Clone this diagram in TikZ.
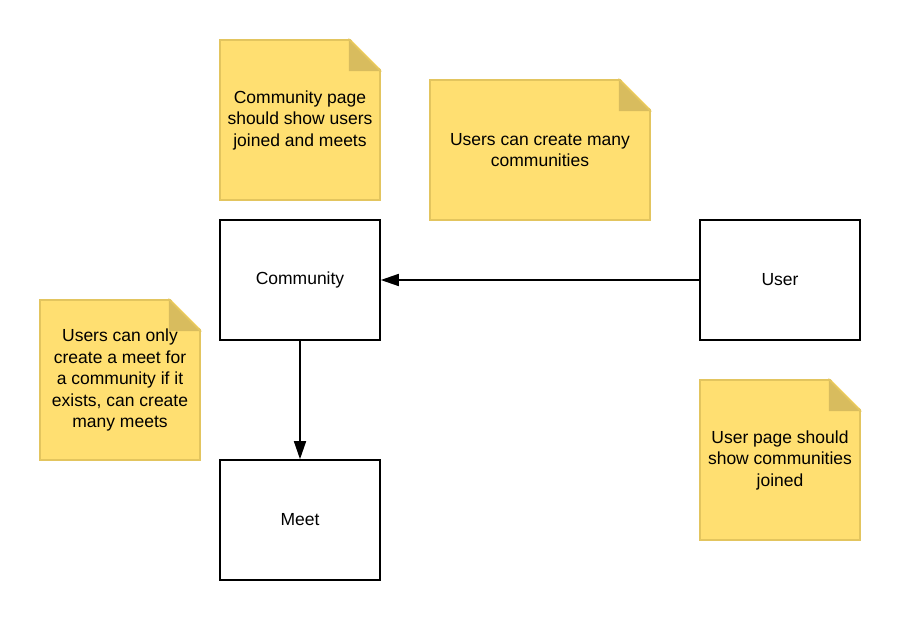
\documentclass[tikz,border=0pt]{standalone}
\usepackage{fontspec}
\setmainfont{Liberation Sans}
\usetikzlibrary{arrows.meta,calc}

\definecolor{notefill}{HTML}{FFDF71}
\definecolor{noteedge}{HTML}{E3C55E}
\definecolor{notefold}{HTML}{D8BC5E}

% folded top right corner of a sticky note
\newcommand{\foldcorner}[1]{%
  \fill[white] ($(#1.north east)+(-32,-2)$) -- ($(#1.north east)+(2,-2)$) -- ($(#1.north east)+(2,32)$) -- cycle;
  \fill[notefold] ($(#1.north east)+(-32,0)$) -- ($(#1.north east)+(-32,32)$) -- ($(#1.north east)+(0,32)$) -- cycle;
  \draw[noteedge, line width=1.6pt, line cap=round] ($(#1.north east)+(-32,0)$) -- ($(#1.north east)+(0,32)$);
}

\begin{document}
\begin{tikzpicture}[x=1pt, y=-1pt, font=\fontsize{17.5}{21.5}\selectfont]
    \tikzstyle{entity}=[rectangle, draw=black, line width=1.6pt, fill=white, minimum width=160pt, minimum height=120pt, inner sep=0pt]
    \tikzstyle{note}=[rectangle, draw=noteedge, line width=1.6pt, fill=notefill, inner sep=0pt, align=center]
    \tikzstyle{link}=[line width=1.6pt, -{Triangle[length=18pt,width=12pt]}]

    \useasboundingbox (0,0) rectangle (900,620);

    % Entities
    \node[entity] (community) at (300,280) {Community};
    \node[entity] (user) at (780,280) {User};
    \node[entity] (meet) at (300,520) {Meet};

    % Sticky notes
    \node[note, minimum width=160pt, minimum height=160pt] (note-community) at (300,120) {Community page\\should show users\\joined and meets};
    \node[note, minimum width=220pt, minimum height=140pt] (note-many) at (540,150) {Users can create many\\communities};
    \node[note, minimum width=160pt, minimum height=160pt] (note-meet) at (120,380) {Users can only\\create a meet for\\a community if it\\exists, can create\\many meets};
    \node[note, minimum width=160pt, minimum height=160pt] (note-user) at (780,460) {User page should\\show communities\\joined};

    \foldcorner{note-community}
    \foldcorner{note-many}
    \foldcorner{note-meet}
    \foldcorner{note-user}

    % Connections
    \draw[link] (user) -- (community);
    \draw[link] (community) -- (meet);
\end{tikzpicture}
\end{document}
